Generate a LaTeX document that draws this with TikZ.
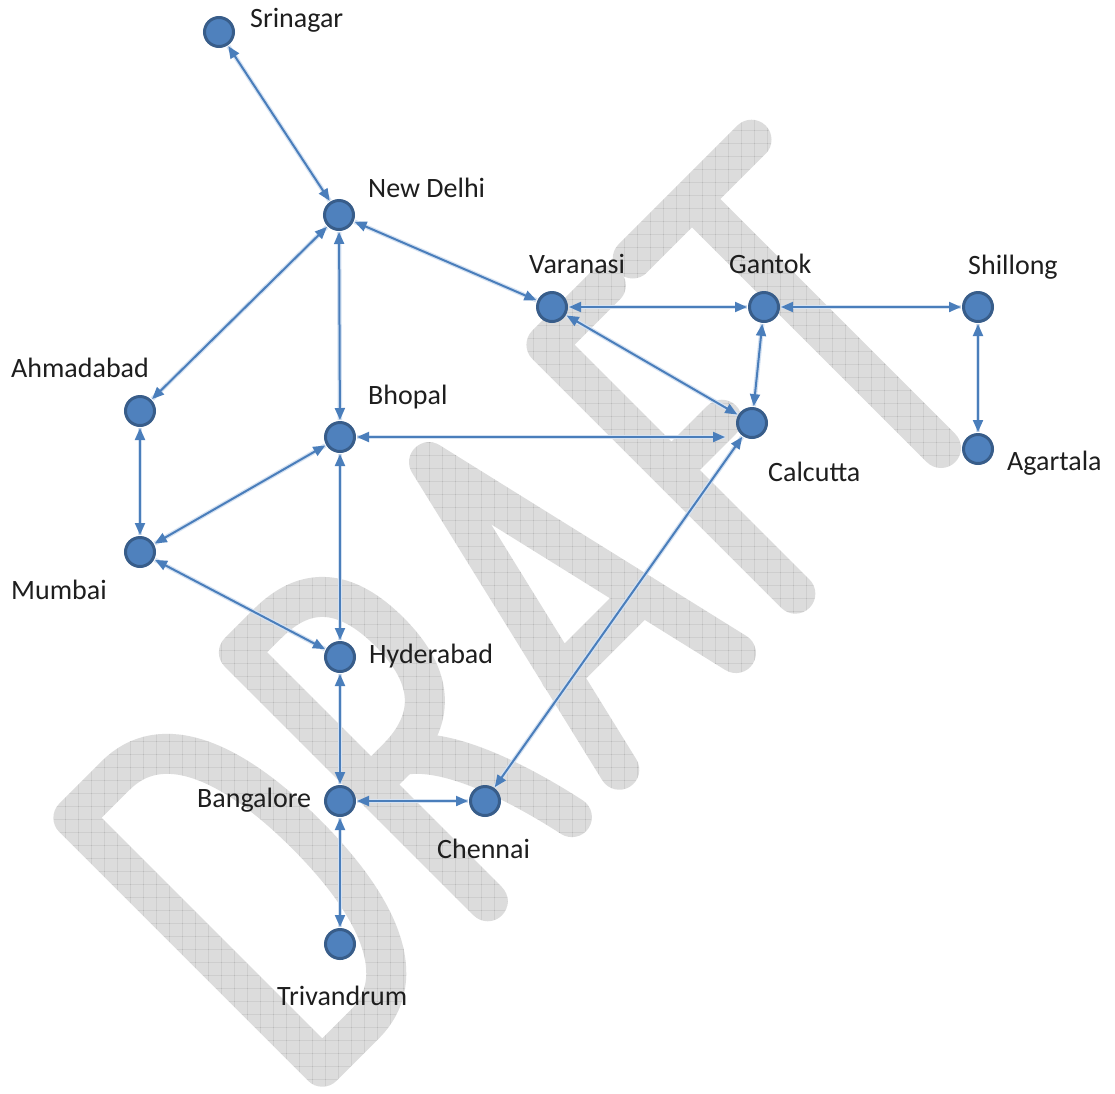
\documentclass[tikz,border=0pt]{standalone}
\usepackage{fontspec}
\setmainfont{Carlito}
\usetikzlibrary{arrows.meta}
\definecolor{nodefill}{HTML}{4F81BD}
\definecolor{nodeline}{HTML}{385D8A}
\definecolor{edgecol}{HTML}{4A7EBB}
\definecolor{edgehalo}{HTML}{D5E2F2}
\definecolor{wmark}{HTML}{DCDCDC}
\definecolor{wgrid}{HTML}{B4B4B4}
\definecolor{labelcol}{HTML}{1E1E1E}
\begin{document}
\begin{tikzpicture}[x=1pt,y=-1pt,
  city/.style={circle,fill=nodefill,draw=nodeline,line width=3pt,minimum size=29pt,inner sep=0pt},
  lbl/.style={anchor=base west,font=\fontsize{28}{30}\selectfont,text=labelcol,inner sep=0pt},
  link/.style={draw=edgecol,line width=2pt,
    {Triangle[length=12pt,width=10pt]}-{Triangle[length=12pt,width=10pt]},
    shorten <=1pt,shorten >=1pt,
    preaction={draw=edgehalo,line width=4.5pt,arrows=-}},
  wm/.style={draw=wmark,line width=40pt,line cap=round,line join=round}]
\fill[white] (0,0) rectangle (1115,1093);
\useasboundingbox (0,0) rectangle (1115,1093);
\begin{scope}
\clip (0,0) rectangle (1115,1093);
% watermark DRAFT
\begin{scope}[shift={(941pt,-448pt)},rotate=45,x=1pt,y=1pt]
  % T
  \draw[wm] (-84,352) -- (84,352) (0,352) -- (0,0);
  % F
  \draw[wm] (-122,352) -- (-206,352) -- (-206,0) (-206,175) -- (-135,175);
  % A
  \draw[wm] (-455,0) -- (-372,352) -- (-290,0) (-430,108) -- (-315,108);
  % R
  \draw[wm] (-641,0) -- (-641,352) -- (-600,352) .. controls (-545,352) and (-520,320) .. (-520,260)
     .. controls (-520,195) and (-550,165) .. (-605,165) -- (-641,165);
  \draw[wm] (-600,165) .. controls (-560,140) and (-535,60) .. (-522,0);
  % D
  \draw[wm] (-875,0) -- (-875,352) -- (-815,352) .. controls (-750,352) and (-722,280) .. (-722,176)
     .. controls (-722,72) and (-750,0) .. (-815,0) -- cycle;
\end{scope}
\begin{scope}[blend mode=color burn]
  \foreach \i in {0,13,...,1115} \draw[wgrid,line width=0.6pt] (\i,0) -- (\i,1093);
  \foreach \j in {0,13,...,1093} \draw[wgrid,line width=0.6pt] (0,\j) -- (1115,\j);
\end{scope}
\end{scope}
% cities
\node[city] (srinagar) at (219,32) {};
\node[city] (newdelhi) at (339,215) {};
\node[city] (varanasi) at (552,307) {};
\node[city] (gantok) at (764,307) {};
\node[city] (shillong) at (978,307) {};
\node[city] (agartala) at (978,449) {};
\node[city] (calcutta) at (752,423) {};
\node[city] (ahmadabad) at (140,411) {};
\node[city] (bhopal) at (340,437) {};
\node[city] (mumbai) at (140,552) {};
\node[city] (hyderabad) at (340,657) {};
\node[city] (bangalore) at (340,801) {};
\node[city] (chennai) at (485,801) {};
\node[city] (trivandrum) at (340,944) {};
\coordinate (calcuttain) at (726,437);
% labels
\node[lbl] (lsrinagar) at (250,27) {Srinagar};
\node[lbl] (lnewdelhi) at (368,197) {New Delhi};
\node[lbl] (lvaranasi) at (529,273) {Varanasi};
\node[lbl] (lgantok) at (729,273) {Gantok};
\node[lbl] (lshillong) at (968,274) {Shillong};
\node[lbl] (lagartala) at (1007,470) {Agartala};
\node[lbl] (lcalcutta) at (768,481) {Calcutta};
\node[lbl] (lahmadabad) at (11,377) {Ahmadabad};
\node[lbl] (lbhopal) at (368,404) {Bhopal};
\node[lbl] (lmumbai) at (11,599) {Mumbai};
\node[lbl] (lhyderabad) at (369,663) {Hyderabad};
\node[lbl] (lbangalore) at (197,807) {Bangalore};
\node[lbl] (lchennai) at (437,858) {Chennai};
\node[lbl] (ltrivandrum) at (277,1005) {Trivandrum};
% links
\draw[link] (srinagar) -- (newdelhi);
\draw[link] (newdelhi) -- (varanasi);
\draw[link] (newdelhi) -- (ahmadabad);
\draw[link] (newdelhi) -- (bhopal);
\draw[link] (varanasi) -- (gantok);
\draw[link] (varanasi) -- (calcutta);
\draw[link] (gantok) -- (shillong);
\draw[link] (gantok) -- (calcutta);
\draw[link] (shillong) -- (agartala);
\draw[link] (bhopal) -- (calcuttain);
\draw[link] (bhopal) -- (mumbai);
\draw[link] (bhopal) -- (hyderabad);
\draw[link] (ahmadabad) -- (mumbai);
\draw[link] (mumbai) -- (hyderabad);
\draw[link] (hyderabad) -- (bangalore);
\draw[link] (bangalore) -- (chennai);
\draw[link] (bangalore) -- (trivandrum);
\draw[link] (chennai) -- (calcutta);
\end{tikzpicture}
\end{document}
